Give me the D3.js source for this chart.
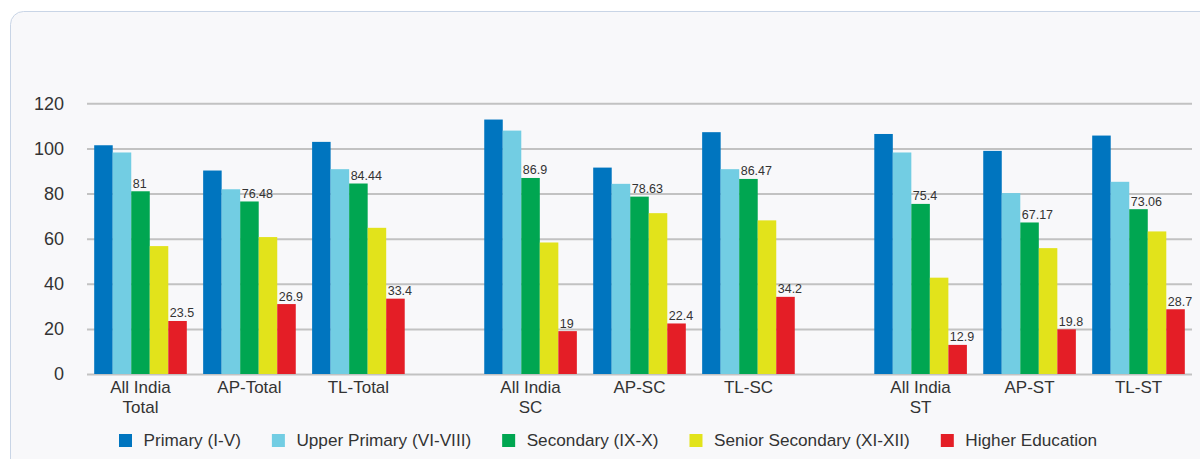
<!DOCTYPE html>
<html lang="en">
  <head>
    <meta charset="utf-8">
    <title>Gross Enrolment Ratio</title>
    <script src="https://d3js.org/d3.v7.min.js"></script>
    <style>
      body { margin: 0; background: #fff; }
      text { font-family: "Liberation Sans", Arial, sans-serif; fill: #333; }
    </style>
  </head>
  <body>
    <script>
      // data
      var groups = ["Total", "SC", "ST"]
      var categories = ["All India|Total", "AP-Total", "TL-Total", "All India|SC", "AP-SC", "TL-SC", "All India|ST", "AP-ST", "TL-ST"]
      var categoryGroup = ["Total", "Total", "Total", "SC", "SC", "SC", "ST", "ST", "ST"]
      var seriesNames = ["Primary (I-V)", "Upper Primary (VI-VIII)", "Secondary (IX-X)", "Senior Secondary (XI-XII)", "Higher Education"]
      var seriesColors = ["#0075bf", "#72cde3", "#00a651", "#e2e31b", "#e41e26"]

      var primary = [101.4, 90.2, 102.9, 112.8, 91.5, 107.2, 106.4, 98.9, 105.7]
      var upperPrimary = [98.2, 81.9, 90.8, 107.9, 84.3, 90.8, 98.2, 80.2, 85.2]
      var secondary = [81, 76.48, 84.44, 86.9, 78.63, 86.47, 75.4, 67.17, 73.06]
      var seniorSecondary = [56.7, 60.7, 64.8, 58.3, 71.3, 68.1, 42.7, 55.8, 63.2]
      var higherEducation = [23.5, 31.0, 33.4, 19, 22.4, 34.2, 12.9, 19.8, 28.7]

      var secondaryLabels = ["81", "76.48", "84.44", "86.9", "78.63", "86.47", "75.4", "67.17", "73.06"]
      var higherLabels = ["23.5", "26.9", "33.4", "19", "22.4", "34.2", "12.9", "19.8", "28.7"]
      var yTicks = [0, 20, 40, 60, 80, 100, 120]

      var allSeries = [primary, upperPrimary, secondary, seniorSecondary, higherEducation]

      var width = 1200
      var height = 459

      var svg = d3.select("body")
        .append("svg")
          .attr("width", width)
          .attr("height", height)

      // card background
      svg.append("rect")
        .attr("x", 10.5)
        .attr("y", 11.5)
        .attr("width", 1220)
        .attr("height", 470)
        .attr("rx", 13)
        .attr("fill", "#f8f8fa")
        .attr("stroke", "#c9d5e6")

      var y = d3.scaleLinear()
        .domain([0, 120])
        .range([374, 103.3])

      var x0 = d3.scaleBand()
        .domain(groups)
        .range([87, 1192])
        .paddingInner(0.167)
        .paddingOuter(0)

      var x1 = d3.scaleBand()
        .domain([0, 1, 2])
        .range([0, x0.bandwidth()])
        .paddingInner(0.15)
        .paddingOuter(0.066)

      var x2 = d3.scaleBand()
        .domain(d3.range(seriesNames.length))
        .range([0, x1.bandwidth()])

      function catX(i) {
        var g = categoryGroup[i]
        var k = categoryGroup.slice(0, i).filter(function(d) { return d == g }).length
        return x0(g) + x1(k)
      }

      // gridlines + y labels
      var yAxis = d3.axisLeft(y)
        .tickValues(yTicks)
        .tickSize(-(1192 - 87))
        .tickPadding(23)

      var ga = svg.append("g")
        .attr("transform", "translate(87,0)")
        .call(yAxis)
      ga.select(".domain").remove()
      ga.selectAll(".tick line")
        .attr("stroke", "#c2c2c2")
        .attr("stroke-width", 2)
      ga.selectAll(".tick text")
        .style("font-size", "18px")
        .attr("fill", "#333")

      // bars
      var bars = []
      allSeries.forEach(function(vals, s) {
        vals.forEach(function(v, i) {
          bars.push({s: s, i: i, v: v})
        })
      })

      svg.append("g")
        .selectAll("rect")
        .data(bars)
        .enter()
        .append("rect")
          .attr("x", function(d) { return catX(d.i) + x2(d.s) })
          .attr("y", function(d) { return y(d.v) })
          .attr("width", x2.bandwidth())
          .attr("height", function(d) { return y(0) - y(d.v) })
          .attr("fill", function(d) { return seriesColors[d.s] })

      // value labels on secondary and higher education
      var labelled = [[2, secondary, secondaryLabels], [4, higherEducation, higherLabels]]
      labelled.forEach(function(l) {
        svg.append("g")
          .selectAll("text")
          .data(l[1])
          .enter()
          .append("text")
            .attr("x", function(d, i) { return catX(i) + x2(l[0]) + 1.5 })
            .attr("y", function(d) { return y(d) - 3.5 })
            .style("font-size", "12.5px")
            .text(function(d, i) { return l[2][i] })
      })

      // category labels
      svg.append("g")
        .selectAll("text")
        .data(categories)
        .enter()
        .append("text")
          .attr("text-anchor", "middle")
          .attr("x", function(d, i) { return catX(i) + x1.bandwidth() / 2 })
          .attr("y", 393)
          .style("font-size", "17px")
          .each(function(d) {
            var t = d3.select(this)
            d.split("|").forEach(function(line, j) {
              t.append("tspan")
                .attr("x", t.attr("x"))
                .attr("dy", j == 0 ? 0 : 19.7)
                .text(line)
            })
          })

      // legend
      var lx = 119
      var legend = svg.append("g")
      seriesNames.forEach(function(name, s) {
        legend.append("rect")
          .attr("x", lx)
          .attr("y", 434)
          .attr("width", 13)
          .attr("height", 13)
          .attr("fill", seriesColors[s])
        var t = legend.append("text")
          .attr("x", lx + 24.5)
          .attr("y", 446)
          .style("font-size", "17.2px")
          .text(name)
        lx = lx + 24.5 + t.node().getComputedTextLength() + 31
      })
    </script>
  </body>
</html>
